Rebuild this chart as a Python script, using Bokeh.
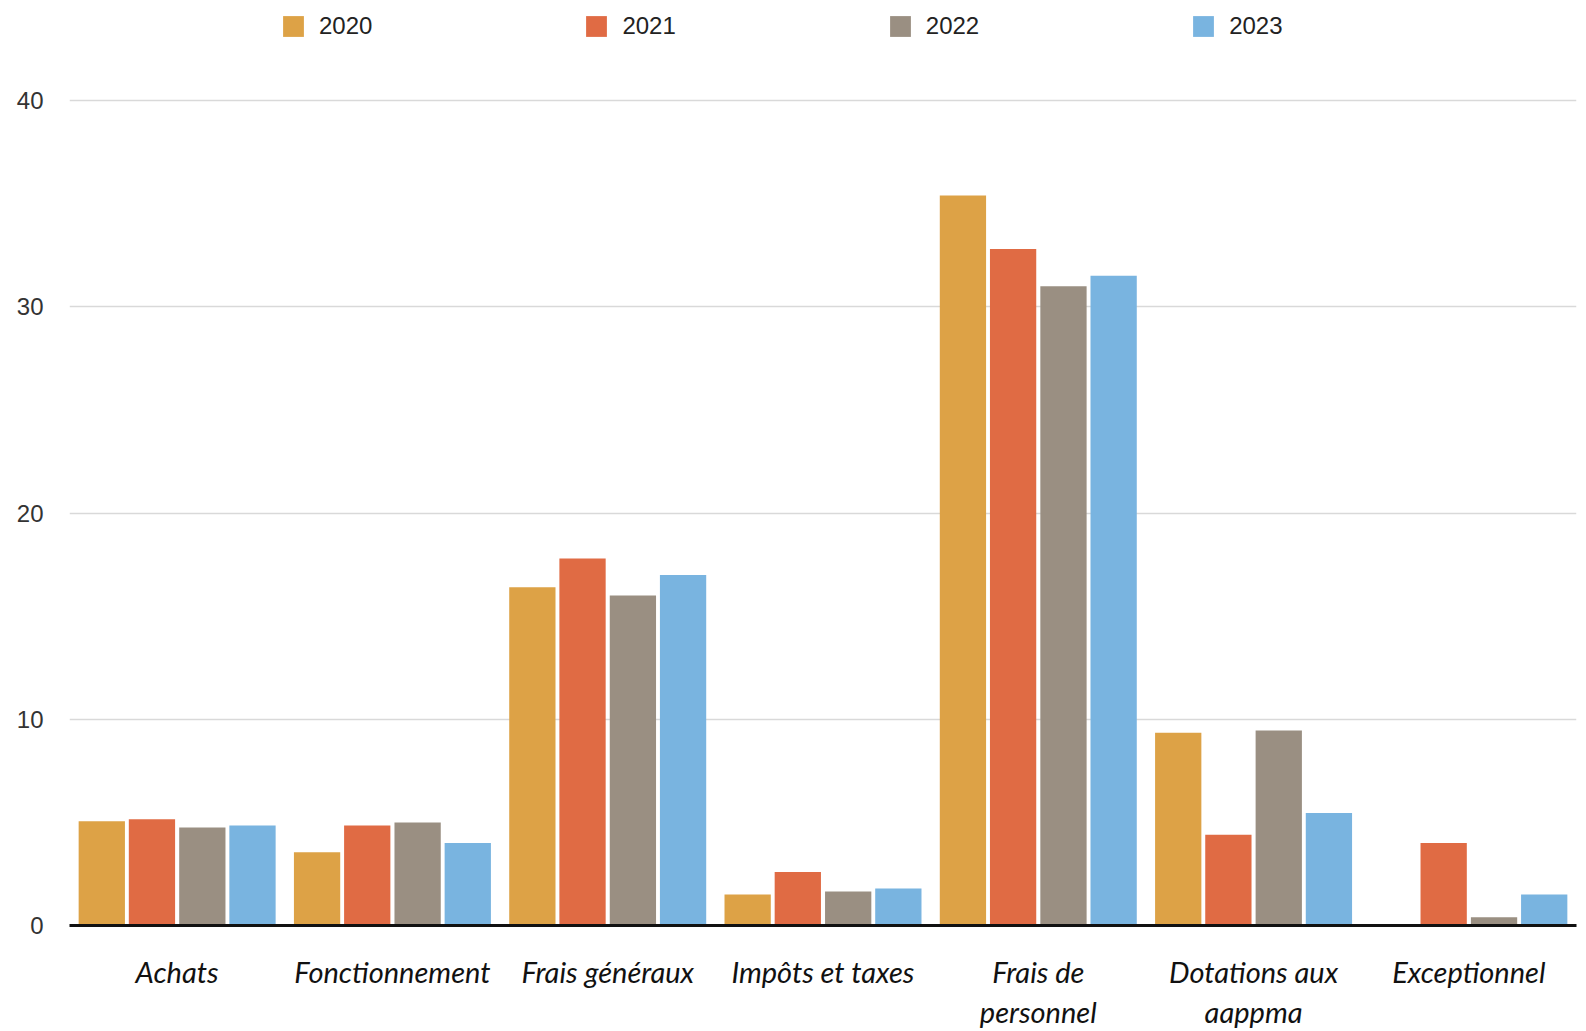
from bokeh.plotting import figure
from bokeh.models import FactorRange, Legend, LegendItem, ColumnDataSource, CategoricalAxis
from bokeh.transform import dodge
from bokeh.embed import file_html
from bokeh.resources import INLINE

# category labels, split over two lines as in the chart
label_line1 = ["Achats", "Fonctionnement", "Frais généraux", "Impôts et taxes",
               "Frais de", "Dotations aux", "Exceptionnel"]
label_line2 = [" ", "  ", "   ", "    ", "personnel", "aappma", "     "]
categories = label_line1
years = ["2020", "2021", "2022", "2023"]
v2020 = [5.05, 3.55, 16.4, 1.5, 35.4, 9.35, 0.0]
v2021 = [5.15, 4.85, 17.8, 2.6, 32.8, 4.4, 4.0]
v2022 = [4.75, 5.0, 16.0, 1.65, 31.0, 9.45, 0.4]
v2023 = [4.85, 4.0, 17.0, 1.8, 31.5, 5.45, 1.5]
y_ticks = [0, 10, 20, 30, 40]
colors = ["#DDA246", "#E06B44", "#9A8F82", "#79B4E0"]

src = ColumnDataSource(dict(cat=categories, y2020=v2020, y2021=v2021,
                            y2022=v2022, y2023=v2023))

p = figure(x_range=FactorRange(*categories, range_padding=0), y_range=(0, 44.85),
           width=1580, height=1031, output_backend="svg", toolbar_location=None,
           min_border_left=69, min_border_right=4, min_border_top=0,
           min_border_bottom=105)
p.extra_x_ranges = {"line2": FactorRange(*label_line2, range_padding=0)}
p.outline_line_color = None
p.background_fill_color = "white"

offsets = [-0.35, -0.117, 0.117, 0.35]
renderers = []
for yr, off, col in zip(years, offsets, colors):
    r = p.vbar(x=dodge("cat", off, range=p.x_range), top="y" + yr, width=0.215,
               source=src, fill_color=col, line_color=None)
    renderers.append(r)

legend = Legend(items=[LegendItem(label=yr, renderers=[r]) for yr, r in zip(years, renderers)],
                orientation="horizontal", location=(211, 885),
                glyph_width=26, glyph_height=26, label_standoff=13, spacing=211,
                padding=0, margin=0, border_line_color=None,
                background_fill_alpha=0, label_text_font="Liberation Sans",
                label_text_font_size="24px", label_text_color="#222222")
p.add_layout(legend, "center")

p.yaxis.ticker = y_ticks
p.yaxis.axis_line_color = None
p.yaxis.major_tick_line_color = None
p.yaxis.major_tick_out = 0
p.yaxis.minor_tick_line_color = None
p.yaxis.major_label_text_font = "Liberation Sans"
p.yaxis.major_label_text_font_size = "24px"
p.yaxis.major_label_text_color = "#333333"
p.yaxis.major_label_standoff = 26

xa = p.xaxis[0]
xa.axis_line_color = "#111111"
xa.axis_line_width = 3
xa.major_tick_line_color = None
xa.major_tick_out = 0
xa.minor_tick_line_color = None
xa.major_label_text_font = "Lato"
xa.major_label_text_font_style = "italic"
xa.major_label_text_font_size = "29px"
xa.major_label_text_color = "#111111"
xa.major_label_standoff = 28

xa2 = CategoricalAxis(x_range_name="line2", axis_line_color=None,
                      major_tick_line_color=None, major_tick_out=0,
                      major_tick_in=0, minor_tick_line_color=None,
                      major_label_text_font="Lato", major_label_text_font_style="italic",
                      major_label_text_font_size="29px", major_label_text_color="#111111",
                      major_label_standoff=2)
p.add_layout(xa2, "below")

p.xgrid.grid_line_color = None
p.ygrid.grid_line_color = "#D9D9D9"
p.ygrid.grid_line_width = 1.5

open("out.html", "w").write(file_html(p, INLINE))
